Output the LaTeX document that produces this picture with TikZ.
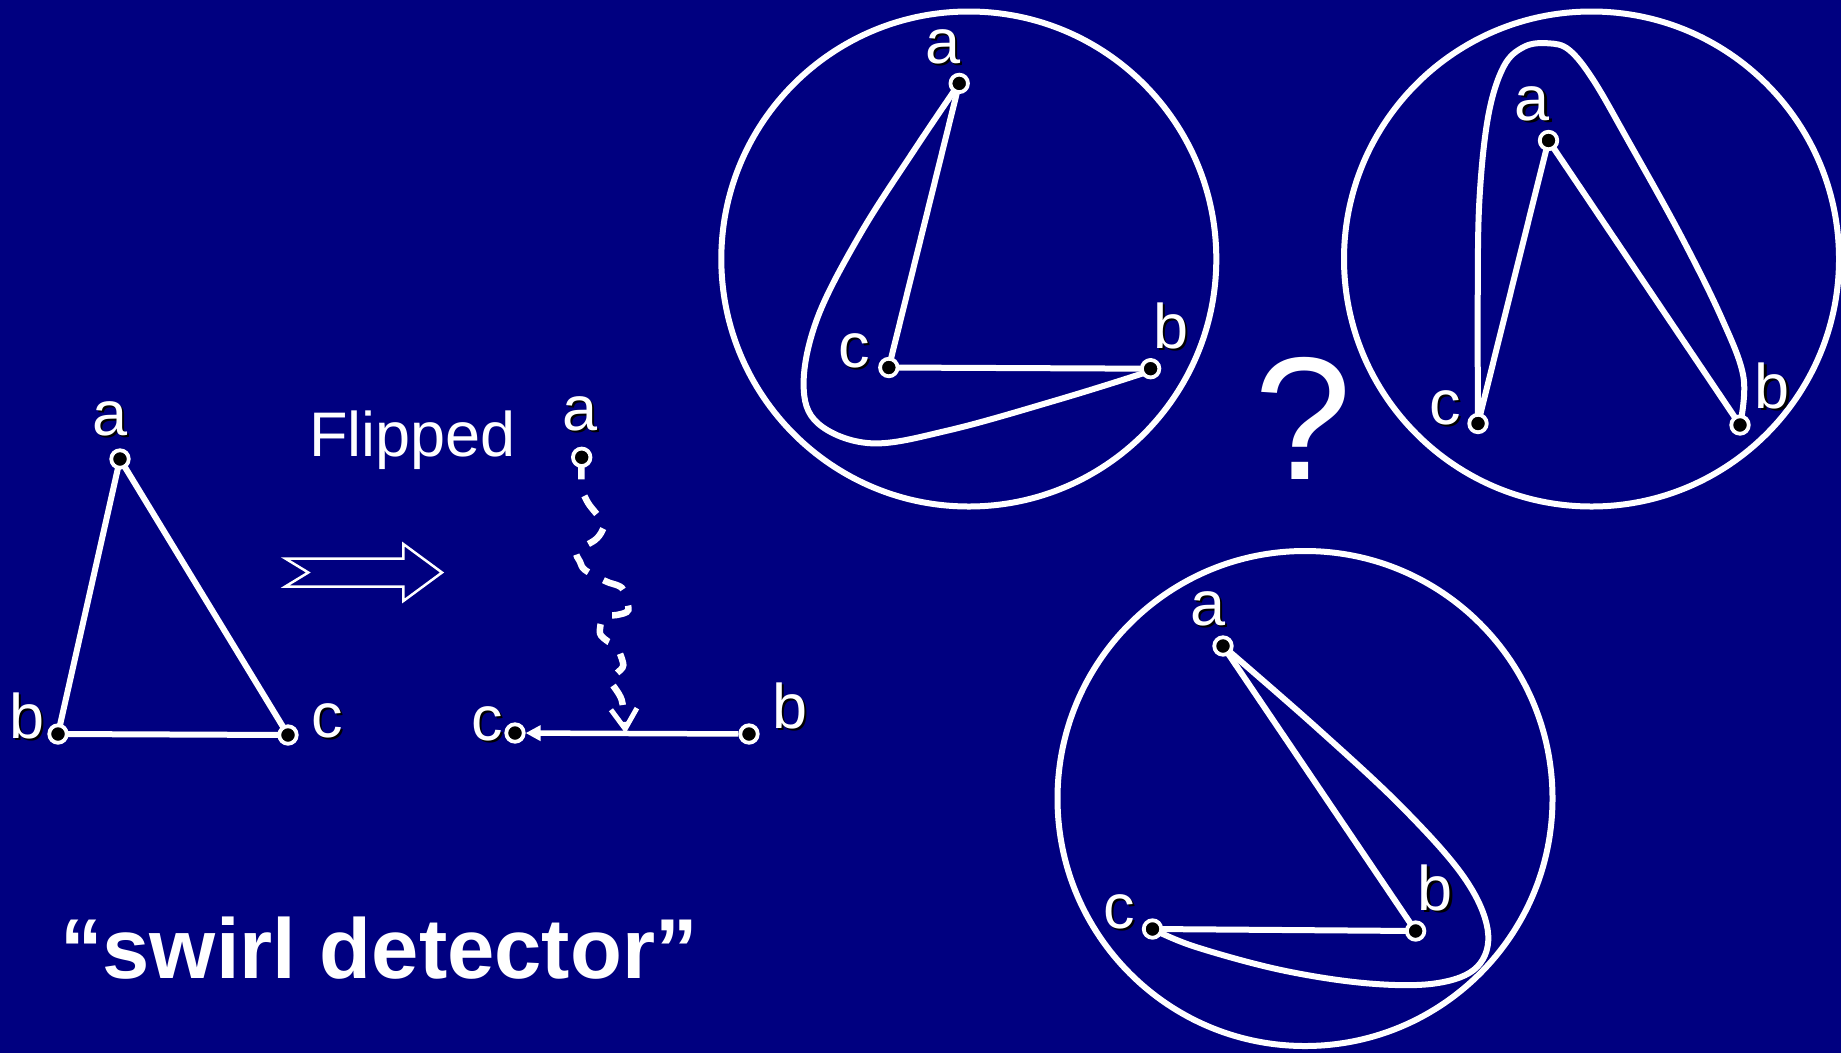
\documentclass[tikz,border=0pt]{standalone}
\usepackage{fontspec}
\setmainfont{Liberation Sans}
\usetikzlibrary{arrows.meta,calc}
\definecolor{navybg}{RGB}{0,0,128}
\pgfdeclarelayer{back}
\pgfdeclarelayer{bg}
\pgfsetlayers{back,bg,main}
\newcommand\shad[1]{\makebox[0pt][l]{\hspace{2.5pt}\raisebox{-2.5pt}{\textcolor{black}{#1}}}#1}
\begin{document}
\begin{tikzpicture}[x=1pt,y=-1pt,
  dot/.style={circle,fill=black,draw=white,line width=3.8pt,minimum size=17.5pt,inner sep=0pt},
  edge/.style={draw=white,line width=6pt,line cap=round},
  ring/.style={circle,draw=white,line width=6pt,minimum size=495pt,inner sep=0pt},
  swirl/.style={draw=white,line width=6pt,line cap=round},
  lbl/.style={text=white,anchor=base,inner sep=0pt,font=\fontsize{63}{70}\selectfont}
]
\useasboundingbox (0,0) rectangle (1841,1053);
\begin{pgfonlayer}{back}
\fill[navybg] (0,0) rectangle (1841,1053);
\end{pgfonlayer}

% ---------- left triangle ----------
\node[dot] (a0) at (120,459) {};
\node[dot] (b0) at (58,734) {};
\node[dot] (c0) at (288,735) {};
\begin{pgfonlayer}{bg}
\draw[edge] (a0.center) -- (b0.center);
\draw[edge] (b0.center) -- (c0.center);
\draw[edge] (c0.center) -- (a0.center);
\end{pgfonlayer}
\node[lbl] (la0) at (110,435) {\shad{a}};
\node[lbl] (lb0) at (27,738) {\shad{b}};
\node[lbl] (lc0) at (327,737) {\shad{c}};

% ---------- Flipped text and hollow arrow ----------
\node[text=white,anchor=base west,inner sep=0pt,font=\fontsize{63}{70}\selectfont] (flip) at (309,456) {Flipped};
\draw[white,line width=2.5pt,line join=miter]
  (285.3,558.5) -- (403.3,558.5) -- (403.3,544) -- (442,572.5) -- (403.3,601)
  -- (403.3,586.5) -- (285.3,586.5) -- (308.3,572.5) -- cycle;

% ---------- flipped configuration ----------
\node[dot] (a2) at (581.7,457.3) {};
\node[dot] (c2) at (515,733) {};
\node[dot] (b2) at (749,734) {};
\coordinate (m2) at ($(c2)!0.472!(b2)$);
\draw[white,line width=5.5pt,-{Triangle[length=15pt,width=15pt]}] (b2) -- (c2);
\begin{pgfonlayer}{bg}
\draw[white,line width=6.5pt,dash pattern=on 22pt off 17pt,
  -{Straight Barb[length=20pt,width=26pt,line width=5pt]}]
  plot[smooth,tension=0.5] coordinates {(a2.center) (581.7,486.7) (588.3,503.3) (603.3,522.7)
  (601.7,531.7) (595,540) (576.7,551.7) (580,561.7) (585,570) (606.7,581.7) (616.7,585)
  (623.3,590) (628.3,610) (616.7,615) (603.3,616.7) (600,633.3) (608.3,641.7) (616.7,646.7)
  (623.3,665) (616.7,673.3) (610,680) (621.7,700) (m2)};
\end{pgfonlayer}
\node[lbl] (la2) at (580,430) {\shad{a}};
\node[lbl] (lc2) at (487,740) {\shad{c}};
\node[lbl] (lb2) at (790,728) {\shad{b}};

% ---------- circle 1 ----------
\node[ring] (o1) at (968.8,259) {};
\node[dot] (a1) at (959.2,83.4) {};
\node[dot] (c1) at (888.8,367.5) {};
\node[dot] (b1) at (1150.6,368.7) {};
\begin{pgfonlayer}{bg}
\draw[edge] (a1.center) -- (c1.center);
\draw[edge] (c1.center) -- (b1.center);
\draw[swirl] plot[smooth,tension=0.6] coordinates {(a1.center) (914.3,150) (860.7,233.3)
  (817.9,316.7) (803.6,383.3) (817.9,423.3) (871.4,443.3) (950,430) (1057.1,400)
  (1142.9,373.3) (b1.center)};
\end{pgfonlayer}
\node[lbl] (la1) at (943,63) {\shad{a}};
\node[lbl] (lc1) at (854,367) {\shad{c}};
\node[lbl] (lb1) at (1171,348) {\shad{b}};

% ---------- question mark ----------
\node[text=white,anchor=base,inner sep=0pt,font=\fontsize{175}{190}\selectfont] (qm) at (1303,479) {?};

% ---------- circle 2 ----------
\node[ring] (o2) at (1591.5,259) {};
\node[dot] (a3) at (1548.5,140.5) {};
\node[dot] (c3) at (1478,423.5) {};
\node[dot] (b3) at (1740,425) {};
\begin{pgfonlayer}{bg}
\draw[edge] (a3.center) -- (c3.center);
\draw[edge] (a3.center) -- (b3.center);
\draw[swirl] plot[smooth,tension=0.6] coordinates {(c3.center) (1477.7,300) (1479.4,200)
  (1488.1,116.7) (1503.6,66.7) (1524.3,46.7) (1548.4,43.3) (1569.2,50) (1593.3,80)
  (1627.8,140) (1679.6,233.3) (1721,316.7) (1743.4,376.7) (b3.center)};
\end{pgfonlayer}
\node[lbl] (la3) at (1532,120) {\shad{a}};
\node[lbl] (lc3) at (1445,424) {\shad{c}};
\node[lbl] (lb3) at (1772,408) {\shad{b}};

% ---------- circle 3 ----------
\node[ring] (o3) at (1305,798.5) {};
\node[dot] (a4) at (1223,646) {};
\node[dot] (b4) at (1415.6,931) {};
\node[dot] (c4) at (1152.5,929) {};
\begin{pgfonlayer}{bg}
\draw[edge] (a4.center) -- (b4.center);
\draw[edge] (c4.center) -- (b4.center);
\draw[swirl] plot[smooth,tension=0.6] coordinates {(a4.center) (1315.5,726.7) (1401.6,806.7)
  (1463.6,876.7) (1487.7,930) (1477.3,966.7) (1436,983.3) (1367.1,983.3) (1281,970)
  (1195,946.7) (c4.center)};
\end{pgfonlayer}
\node[lbl] (la4) at (1208,625) {\shad{a}};
\node[lbl] (lb4) at (1435,910) {\shad{b}};
\node[lbl] (lc4) at (1119,928) {\shad{c}};

% ---------- caption ----------
\node[text=white,anchor=base west,inner sep=0pt,font=\bfseries\fontsize{85}{95}\selectfont] (cap) at (60,978) {“swirl detector”};
\end{tikzpicture}
\end{document}
